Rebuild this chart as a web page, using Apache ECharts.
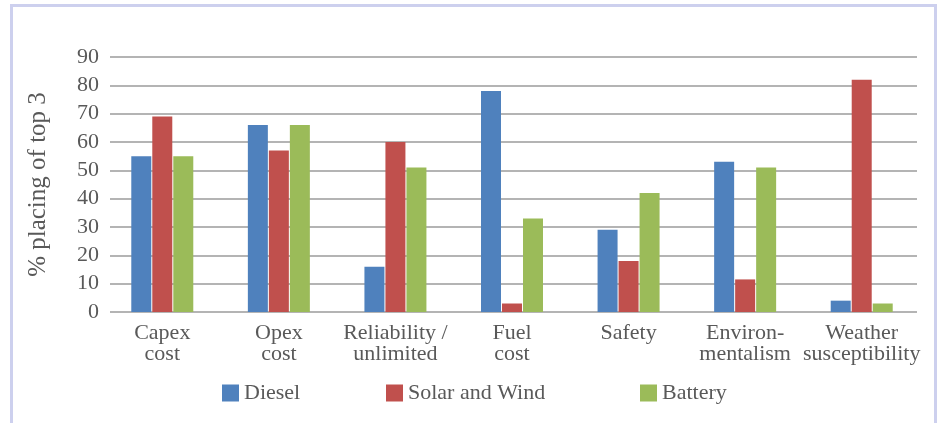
<!DOCTYPE html>
<html>
<head>
<meta charset="utf-8">
<script src="https://cdn.jsdelivr.net/npm/echarts@6/dist/echarts.min.js"></script>
<style>
  html, body { margin: 0; padding: 0; background: #ffffff; }
  #chart { width: 941px; height: 423px; }
</style>
</head>
<body>
<div id="chart"></div>
<script>
// Survey: share of respondents placing each energy option in their top 3, per criterion
const categories = [
  'Capex\ncost',
  'Opex\ncost',
  'Reliability /\nunlimited',
  'Fuel\ncost',
  'Safety',
  'Environ-\nmentalism',
  'Weather\nsusceptibility'
];
const diesel = [55, 66, 16, 78, 29, 53, 4];
const solarWind = [69, 57, 60, 3, 18, 11.5, 82];
const battery = [55, 66, 51, 33, 42, 51, 3];
const yTicks = { min: 0, max: 90, interval: 10 };
const seriesNames = ['Diesel', 'Solar and Wind', 'Battery'];
const colors = ['#4f81bd', '#c0504d', '#9bbb59'];

const textColor = '#595959';
const fontFamily = '"Liberation Serif", "DejaVu Serif", serif';

const chart = echarts.init(document.getElementById('chart'), null, { renderer: 'canvas' });

function legendAt(name, left) {
  return {
    data: [name],
    left: left,
    top: 382,
    itemWidth: 17,
    itemHeight: 17,
    itemGap: 0,
    icon: 'rect',
    textStyle: { color: textColor, fontFamily: fontFamily, fontSize: 22, padding: [0, 0, 0, 0] },
    selectedMode: false,
    padding: 0
  };
}

chart.setOption({
  animation: false,
  backgroundColor: '#ffffff',
  graphic: [{
    type: 'rect',
    shape: { x: 11.5, y: 5.5, width: 924, height: 440 },
    style: { fill: 'none', stroke: '#cdd0ee', lineWidth: 3 },
    silent: true
  }],
  legend: [
    legendAt(seriesNames[0], 222),
    legendAt(seriesNames[1], 386),
    legendAt(seriesNames[2], 640)
  ],
  grid: [
    // value grid: gridlines, tick labels and axis title
    { left: 110, right: 24, top: 57, bottom: 111 },
    // bar grid
    { left: 104, right: 21, top: 57, bottom: 111 }
  ],
  xAxis: [
    { type: 'category', gridIndex: 0, data: categories, show: false },
    {
      type: 'category', gridIndex: 1, data: categories,
      axisLine: { show: false }, axisTick: { show: false },
      axisLabel: {
        color: textColor, fontFamily: fontFamily, fontSize: 22,
        lineHeight: 21, margin: 11, interval: 0
      }
    }
  ],
  yAxis: [
    {
      type: 'value', gridIndex: 0,
      min: yTicks.min, max: yTicks.max, interval: yTicks.interval,
      name: '% placing of top 3', nameLocation: 'middle', nameGap: 59, nameRotate: 90,
      nameTextStyle: { color: textColor, fontFamily: fontFamily, fontSize: 25 },
      axisLine: { show: false }, axisTick: { show: false },
      axisLabel: { color: textColor, fontFamily: fontFamily, fontSize: 22, margin: 11 },
      splitLine: { show: true, lineStyle: { color: '#b4b4b4', width: 2 } }
    },
    {
      type: 'value', gridIndex: 1,
      min: yTicks.min, max: yTicks.max, interval: yTicks.interval,
      show: false, splitLine: { show: false }
    }
  ],
  series: [diesel, solarWind, battery].map((values, i) => ({
    name: seriesNames[i],
    type: 'bar',
    xAxisIndex: 1,
    yAxisIndex: 1,
    data: values,
    barWidth: 20,
    barGap: '5%',
    itemStyle: { color: colors[i] },
    emphasis: { disabled: true }
  }))
});
</script>
</body>
</html>
